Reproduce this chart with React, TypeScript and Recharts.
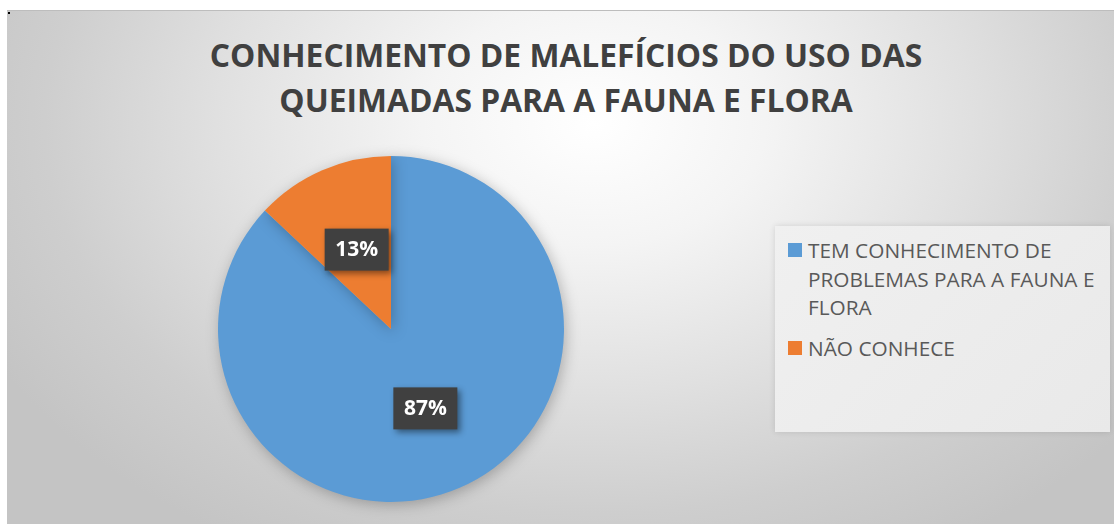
import { Legend, Pie, PieChart } from "recharts";

const categories = ["TEM CONHECIMENTO DE PROBLEMAS PARA A FAUNA E FLORA", "NÃO CONHECE"];
const shares = [87, 13];
const colors = ["#5b9bd5", "#ed7d31"];
const titleLines = ["CONHECIMENTO DE MALEFÍCIOS DO USO DAS", "QUEIMADAS PARA A FAUNA E FLORA"];

const data = categories.map((name, i) => ({ name, value: shares[i], fill: colors[i] }));

const RADIAN = Math.PI / 180;
const FONT = "'Open Sans', 'Noto Sans', sans-serif";

function renderLabel(props: any) {
  const { cx, cy, midAngle, outerRadius, percent } = props;
  const r = outerRadius * 0.5;
  const x = cx + r * Math.cos(-midAngle * RADIAN);
  const y = cy + r * Math.sin(-midAngle * RADIAN);
  return (
    <g style={{ filter: "drop-shadow(3px 3px 3px rgba(0,0,0,0.45))" }}>
      <rect x={x - 32} y={y - 21} width={64} height={42} fill="#404040" />
      <text
        x={x}
        y={y + 1}
        textAnchor="middle"
        dominantBaseline="middle"
        fill="#ffffff"
        fontFamily={FONT}
        fontWeight={700}
        fontSize={21}
      >
        {`${Math.round(percent * 100)}%`}
      </text>
    </g>
  );
}

function LegendBox() {
  return (
    <div
      style={{
        width: 335,
        height: 206,
        boxSizing: "border-box",
        padding: "10px 0 0 13px",
        background: "linear-gradient(135deg, #f0f0f0 0%, #e9e9e9 100%)",
        boxShadow: "0 0 6px rgba(0,0,0,0.12)",
        fontFamily: FONT,
        fontSize: 20.8,
        lineHeight: "28.5px",
        color: "#595959",
      }}
    >
      {data.map((d) => (
        <div key={d.name} style={{ display: "flex", marginBottom: 12 }}>
          <div
            style={{
              width: 14,
              height: 14,
              background: d.fill,
              marginTop: 7,
              marginRight: 6,
              flex: "none",
            }}
          />
          <div style={{ width: 296 }}>{d.name}</div>
        </div>
      ))}
    </div>
  );
}

export default function App() {
  return (
    <div style={{ position: "absolute", left: 0, top: 0, width: 1114, height: 524, background: "#fff" }}>
      <style>{`.recharts-pie-sector path{filter:drop-shadow(2px 3px 7px rgba(0,0,0,0.25));}`}</style>
      <div
        style={{
          position: "absolute",
          left: 7,
          top: 10,
          width: 1107,
          height: 514,
          borderTop: "1px solid #bdbdbd",
          boxSizing: "border-box",
          background:
            "radial-gradient(ellipse 62% 95% at 53% 22%, #ffffff 0%, #f4f4f4 25%, #e0e0e0 55%, #cecece 80%, #c4c4c4 100%)",
        }}
      >
        <div style={{ position: "absolute", left: 1, top: 1, width: 2, height: 2, background: "#000" }} />
        <div
          style={{
            position: "absolute",
            left: 0,
            top: 21,
            width: 1118,
            textAlign: "center",
            fontFamily: FONT,
            fontWeight: 700,
            fontSize: 31.8,
            lineHeight: "45px",
            color: "#404040",
          }}
        >
          {titleLines.map((t) => (
            <div key={t}>{t}</div>
          ))}
        </div>
        <div style={{ position: "absolute", left: 0, top: 0 }}>
          <PieChart width={1107} height={514} margin={{ top: 0, right: 0, bottom: 0, left: 0 }}>
            <Pie
              data={data}
              dataKey="value"
              nameKey="name"
              cx={384}
              cy={318}
              outerRadius={173}
              startAngle={90}
              endAngle={-270}
              stroke="none"
              label={renderLabel}
              labelLine={false}
              isAnimationActive={false}
            />
            <Legend
              content={() => <LegendBox />}
              wrapperStyle={{ left: 768, top: 215, width: 335, height: 206 }}
            />
          </PieChart>
        </div>
      </div>
    </div>
  );
}
